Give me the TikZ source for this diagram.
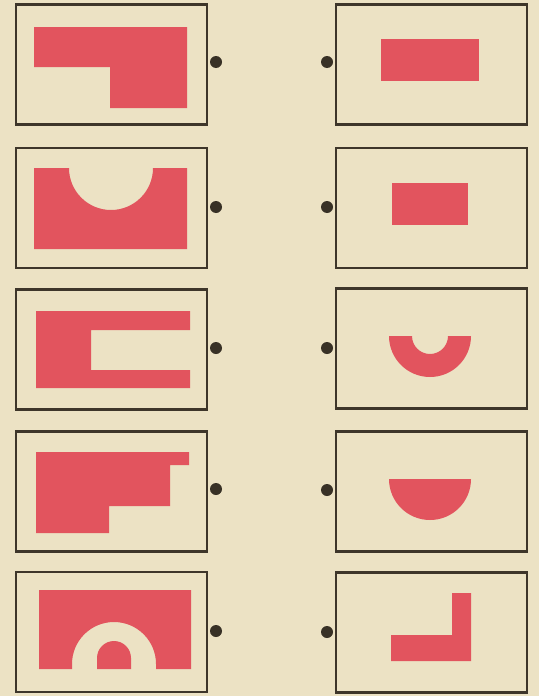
\documentclass[tikz,border=0pt]{standalone}
\usepackage{tikz}
\usetikzlibrary{positioning}
\definecolor{paper}{RGB}{236,226,196}
\definecolor{piecered}{RGB}{226,84,94}
\definecolor{frame}{RGB}{62,54,42}
\begin{document}
\begin{tikzpicture}[x=1pt,y=-1pt,
	card/.style={draw=frame,line width=2.6pt,minimum width=191pt,minimum height=120pt,inner sep=0pt},
	dot/.style={circle,fill=frame!90!black,minimum size=12pt,inner sep=0pt},
	piece/.style={fill=piecered}]
	
	\fill[paper] (0,0) rectangle (539,696);
	\useasboundingbox (0,0) rectangle (539,696);
	
	% left column
	\node[card] (l1) at (111.5,64.5) {};
	\node[card] (l2) at (111.5,208) {};
	\node[card] (l3) at (111.5,349.5) {};
	\node[card] (l4) at (111.5,491.5) {};
	\node[card] (l5) at (111.5,632) {};
	
	% right column
	\node[card] (r1) at (431.5,64.5) {};
	\node[card] (r2) at (431.5,208) {};
	\node[card] (r3) at (431.5,348.5) {};
	\node[card] (r4) at (431.5,491.5) {};
	\node[card] (r5) at (431.5,632.5) {};
	
	% dots
	\node[dot] (dl1) at (216,62) {};
	\node[dot] (dl2) at (216,207) {};
	\node[dot] (dl3) at (216,348) {};
	\node[dot] (dl4) at (216,489) {};
	\node[dot] (dl5) at (216,631) {};
	\node[dot] (dr1) at (327,62) {};
	\node[dot] (dr2) at (327,207) {};
	\node[dot] (dr3) at (327,348) {};
	\node[dot] (dr4) at (327,490) {};
	\node[dot] (dr5) at (327,632) {};
	
	% left pieces
	\fill[piece] (34,27) -- (187,27) -- (187,108) -- (110,108) -- (110,67) -- (34,67) -- cycle;
	\fill[piece] (34,168) -- (69,168) arc[start angle=180,end angle=0,radius=42]
		-- (187,168) -- (187,249) -- (34,249) -- cycle;
	\fill[piece] (36,311) -- (190,311) -- (190,330) -- (91,330) -- (91,370) -- (190,370)
		-- (190,388) -- (36,388) -- cycle;
	\fill[piece] (36,452) -- (189,452) -- (189,465) -- (170,465) -- (170,506) -- (109,506)
		-- (109,533) -- (36,533) -- cycle;
	\fill[piece] (39,590) -- (191,590) -- (191,669) -- (156,669) -- (156,664)
		arc[start angle=0,end angle=-180,radius=42] -- (72,669) -- (39,669) -- cycle;
	\fill[piece] (97,669) -- (97,658) arc[start angle=180,end angle=360,radius=17] -- (131,669) -- cycle;
	
	% right pieces
	\fill[piece] (381,39) rectangle (479,81);
	\fill[piece] (392,183) rectangle (468,225);
	\fill[piece] (389,336) arc[start angle=180,end angle=0,radius=41] -- (448,336)
		arc[start angle=0,end angle=180,radius=18] -- cycle;
	\fill[piece] (389,479) arc[start angle=180,end angle=0,radius=41] -- cycle;
	\fill[piece] (452,593) -- (471,593) -- (471,661) -- (391,661) -- (391,635) -- (452,635) -- cycle;
	
\end{tikzpicture}
\end{document}
